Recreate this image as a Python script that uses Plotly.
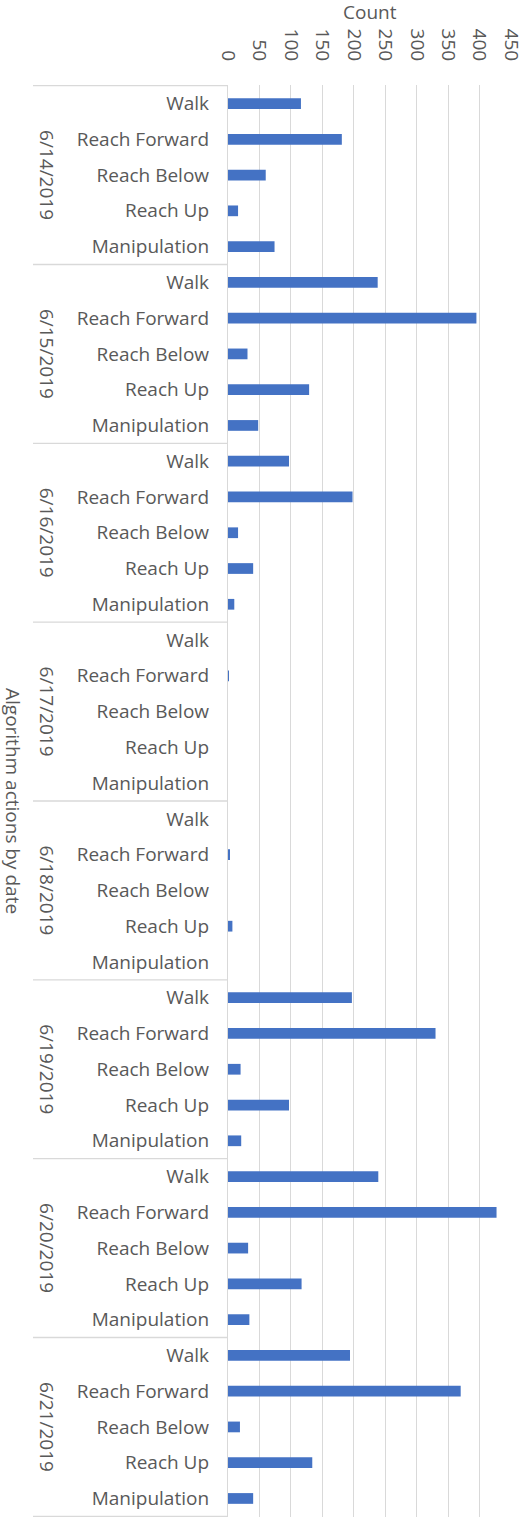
import plotly.graph_objects as go

dates = ["6/14/2019", "6/15/2019", "6/16/2019", "6/17/2019",
         "6/18/2019", "6/19/2019", "6/20/2019", "6/21/2019"]
actions = ["Walk", "Reach Forward", "Reach Below", "Reach Up", "Manipulation"]

walk = [116, 238, 97, 0, 0, 197, 239, 194]
reach_forward = [181, 395, 198, 1, 3, 330, 427, 370]
reach_below = [60, 31, 16, 0, 0, 20, 32, 19]
reach_up = [16, 129, 40, 0, 7, 97, 117, 134]
manipulation = [74, 48, 10, 0, 0, 21, 34, 40]

x_ticks = [0, 50, 100, 150, 200, 250, 300, 350, 400, 450]

series = [walk, reach_forward, reach_below, reach_up, manipulation]

cats, labels, vals = [], [], []
for di, d in enumerate(dates):
    for ai, a in enumerate(actions):
        cats.append(f"{d}|{a}")
        labels.append(a)
        vals.append(series[ai][di])

W, H = 520, 1522
ML, MR, MT, MB = 228, 9, 85, 5
PW = W - ML - MR
PH = H - MT - MB

FONT = "Open Sans"
TXT = "#595959"
GRID = "#d9d9d9"

fig = go.Figure(go.Bar(
    x=vals, y=cats, orientation="h",
    marker=dict(color="#4472C4", line=dict(width=0)),
    width=0.3,
))

shapes = []
for k in range(len(dates) + 1):
    yb = k * len(actions) - 0.5
    shapes.append(dict(type="line", xref="paper", yref="y",
                       x0=(33 - ML) / PW, x1=0, y0=yb, y1=yb,
                       line=dict(color=GRID, width=1.3), layer="below"))

annotations = []
for di, d in enumerate(dates):
    annotations.append(dict(text=d, xref="paper", yref="y",
                            x=(47 - ML) / PW, y=di * len(actions) + 2,
                            textangle=90, showarrow=False,
                            xanchor="center", yanchor="middle",
                            font=dict(family=FONT, size=19, color=TXT)))
annotations.append(dict(text="Algorithm actions by date", xref="paper", yref="paper",
                        x=(13 - ML) / PW, y=0.5, textangle=90, showarrow=False,
                        xanchor="center", yanchor="middle",
                        font=dict(family=FONT, size=19, color=TXT)))
annotations.append(dict(text="Count", xref="paper", yref="paper",
                        x=0.5, y=1 + (MT - 12) / PH, showarrow=False,
                        xanchor="center", yanchor="middle",
                        font=dict(family=FONT, size=19, color=TXT)))

fig.update_layout(
    width=W, height=H,
    margin=dict(l=ML, r=MR, t=MT, b=MB, pad=0, autoexpand=False),
    paper_bgcolor="white", plot_bgcolor="white",
    showlegend=False,
    shapes=shapes, annotations=annotations,
    xaxis=dict(side="top", range=[0, 450], tickvals=x_ticks,
               tickangle=90, showgrid=True, gridcolor=GRID, gridwidth=1.3,
               zeroline=False, showline=False, automargin=False,
               ticklabeloverflow="allow", ticklabelstandoff=20,
               tickfont=dict(family=FONT, size=19, color=TXT),
               ticks="", fixedrange=True),
    yaxis=dict(type="category", categoryorder="array", categoryarray=cats,
               autorange="reversed", tickvals=cats, ticktext=labels,
               showgrid=False, showline=True, linecolor=GRID, linewidth=1.3,
               ticks="", ticklabelstandoff=14, automargin=False,
               tickfont=dict(family=FONT, size=19, color=TXT)),
)

fig.write_html("out.html",
               config={"displayModeBar": False},
               post_script="document.body.style.margin='0';document.body.style.overflow='hidden';")
